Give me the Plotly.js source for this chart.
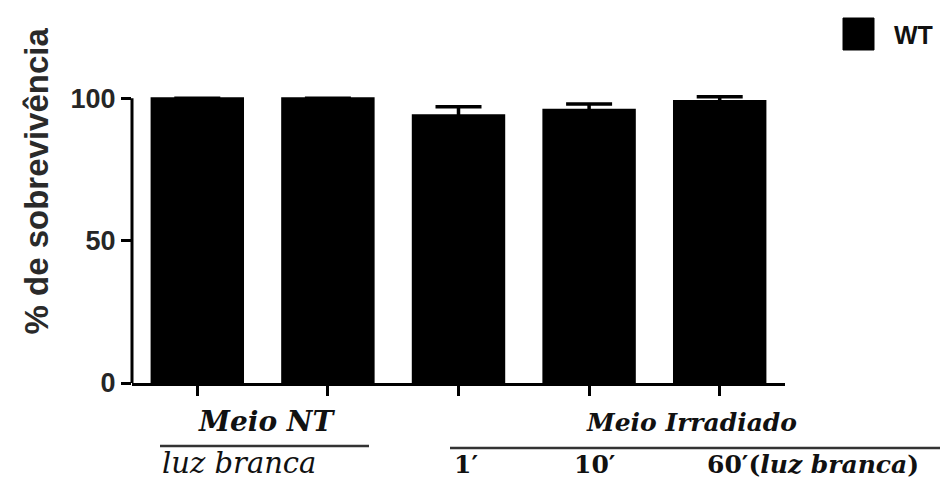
<!DOCTYPE html>
<html>
<head>
<meta charset="utf-8">
<script src="https://cdn.plot.ly/plotly-3.0.1.min.js"></script>
<style>
  html, body { margin: 0; padding: 0; background: #fff; }
  #chart { width: 942px; height: 482px; }
</style>
</head>
<body>
<div id="chart"></div>
<script>
// Survival (%) of the WT strain under each medium condition
const seriesName = "WT";
const barPositions = [0, 1, 2, 3, 4];
const survival = [100, 100, 94, 96, 99];
const survivalErr = [0, 0, 3, 2, 1.5];
const yTicks = [0, 50, 100];
const yTitle = "% de sobrevivência";
const groupTitles = ["Meio NT", "Meio Irradiado"];
const ntSubLabel = "luz branca";
const irradiatedLabels = ["1′", "10′", "60′(<i>luz branca</i>)"];

// Plot frame in pixels, used to place the decorations around the axes
const frame = { left: 132, right: 785, top: 94, bottom: 383 };
const px = x => (x - frame.left) / (frame.right - frame.left);
const py = y => (frame.bottom - y) / (frame.bottom - frame.top);

const serif = "DejaVu Serif, Liberation Serif, serif";
const sans = "Liberation Sans, Arial, sans-serif";

const trace = {
  type: "bar",
  x: barPositions,
  y: survival,
  name: seriesName,
  showlegend: false,
  width: 0.7,
  marker: { color: "#000", line: { color: "#000", width: 2 } },
  error_y: {
    type: "data", array: survivalErr, visible: true,
    color: "#000", thickness: 3.5, width: 23
  }
};

const annotations = [
  { text: yTitle, textangle: -90, xref: "paper", yref: "paper",
    x: px(36), y: py(336), xanchor: "center", yanchor: "bottom",
    showarrow: false, font: { family: sans, size: 33, weight: "bold", color: "#2a2a2a" } },
  { text: "<b>" + groupTitles[0] + "</b>", xref: "paper", yref: "paper",
    x: px(266), y: py(421), xanchor: "center", yanchor: "middle",
    showarrow: false, font: { family: serif, size: 28, style: "italic", color: "#111" } },
  { text: ntSubLabel, xref: "paper", yref: "paper",
    x: px(160), y: py(463), xanchor: "left", yanchor: "middle",
    showarrow: false, font: { family: serif, size: 29, style: "italic", color: "#111" } },
  { text: "<b>" + groupTitles[1] + "</b>", xref: "paper", yref: "paper",
    x: px(691), y: py(423), xanchor: "center", yanchor: "middle",
    showarrow: false, font: { family: serif, size: 25, style: "italic", color: "#111" } },
  { text: "<b>" + seriesName + "</b>", xref: "paper", yref: "paper",
    x: px(892), y: py(35), xanchor: "left", yanchor: "middle",
    showarrow: false, font: { family: sans, size: 25, color: "#111" } }
];

// labels under the irradiated-medium bars
const doseX = [452, 572, 705];
irradiatedLabels.forEach((t, i) => {
  annotations.push({
    text: "<b>" + t + "</b>", xref: "paper", yref: "paper",
    x: px(doseX[i]), y: py(464), xanchor: "left", yanchor: "middle",
    showarrow: false, font: { family: serif, size: 25, color: "#111" }
  });
});

const shapes = [
  // y axis line, running from 0 to 100
  { type: "line", xref: "paper", yref: "y", x0: 0, x1: 0, y0: 0, y1: 100,
    line: { color: "#000", width: 3 } },
  // group separators
  { type: "line", xref: "paper", yref: "paper", x0: px(160), x1: px(369), y0: py(446), y1: py(446),
    line: { color: "#333", width: 2.5 } },
  { type: "line", xref: "paper", yref: "paper", x0: px(450), x1: px(940), y0: py(448), y1: py(448),
    line: { color: "#333", width: 2.5 } },
  // legend swatch
  { type: "rect", xref: "paper", yref: "paper", x0: px(843), x1: px(874), y0: py(50), y1: py(18),
    fillcolor: "#000", line: { color: "#000", width: 1 } }
];

const layout = {
  width: 942, height: 482,
  margin: { l: frame.left, r: 942 - frame.right, t: frame.top, b: 482 - frame.bottom, pad: 0 },
  paper_bgcolor: "#fff", plot_bgcolor: "#fff",
  showlegend: false,
  xaxis: {
    range: [-0.5, 4.5], tickmode: "linear", tick0: 0, dtick: 1,
    showticklabels: false, ticks: "outside", ticklen: 10, tickwidth: 3, tickcolor: "#000",
    showline: true, linecolor: "#000", linewidth: 3, showgrid: false, zeroline: false
  },
  yaxis: {
    range: [0, 101.5], tickvals: yTicks, ticks: "outside", ticklen: 10, tickwidth: 3,
    tickcolor: "#000", showline: false, showgrid: false, zeroline: false,
    tickfont: { family: sans, size: 27, weight: "bold", color: "#262626" }
  },
  annotations: annotations,
  shapes: shapes
};

Plotly.newPlot("chart", [trace], layout, { staticPlot: true });
</script>
</body>
</html>
